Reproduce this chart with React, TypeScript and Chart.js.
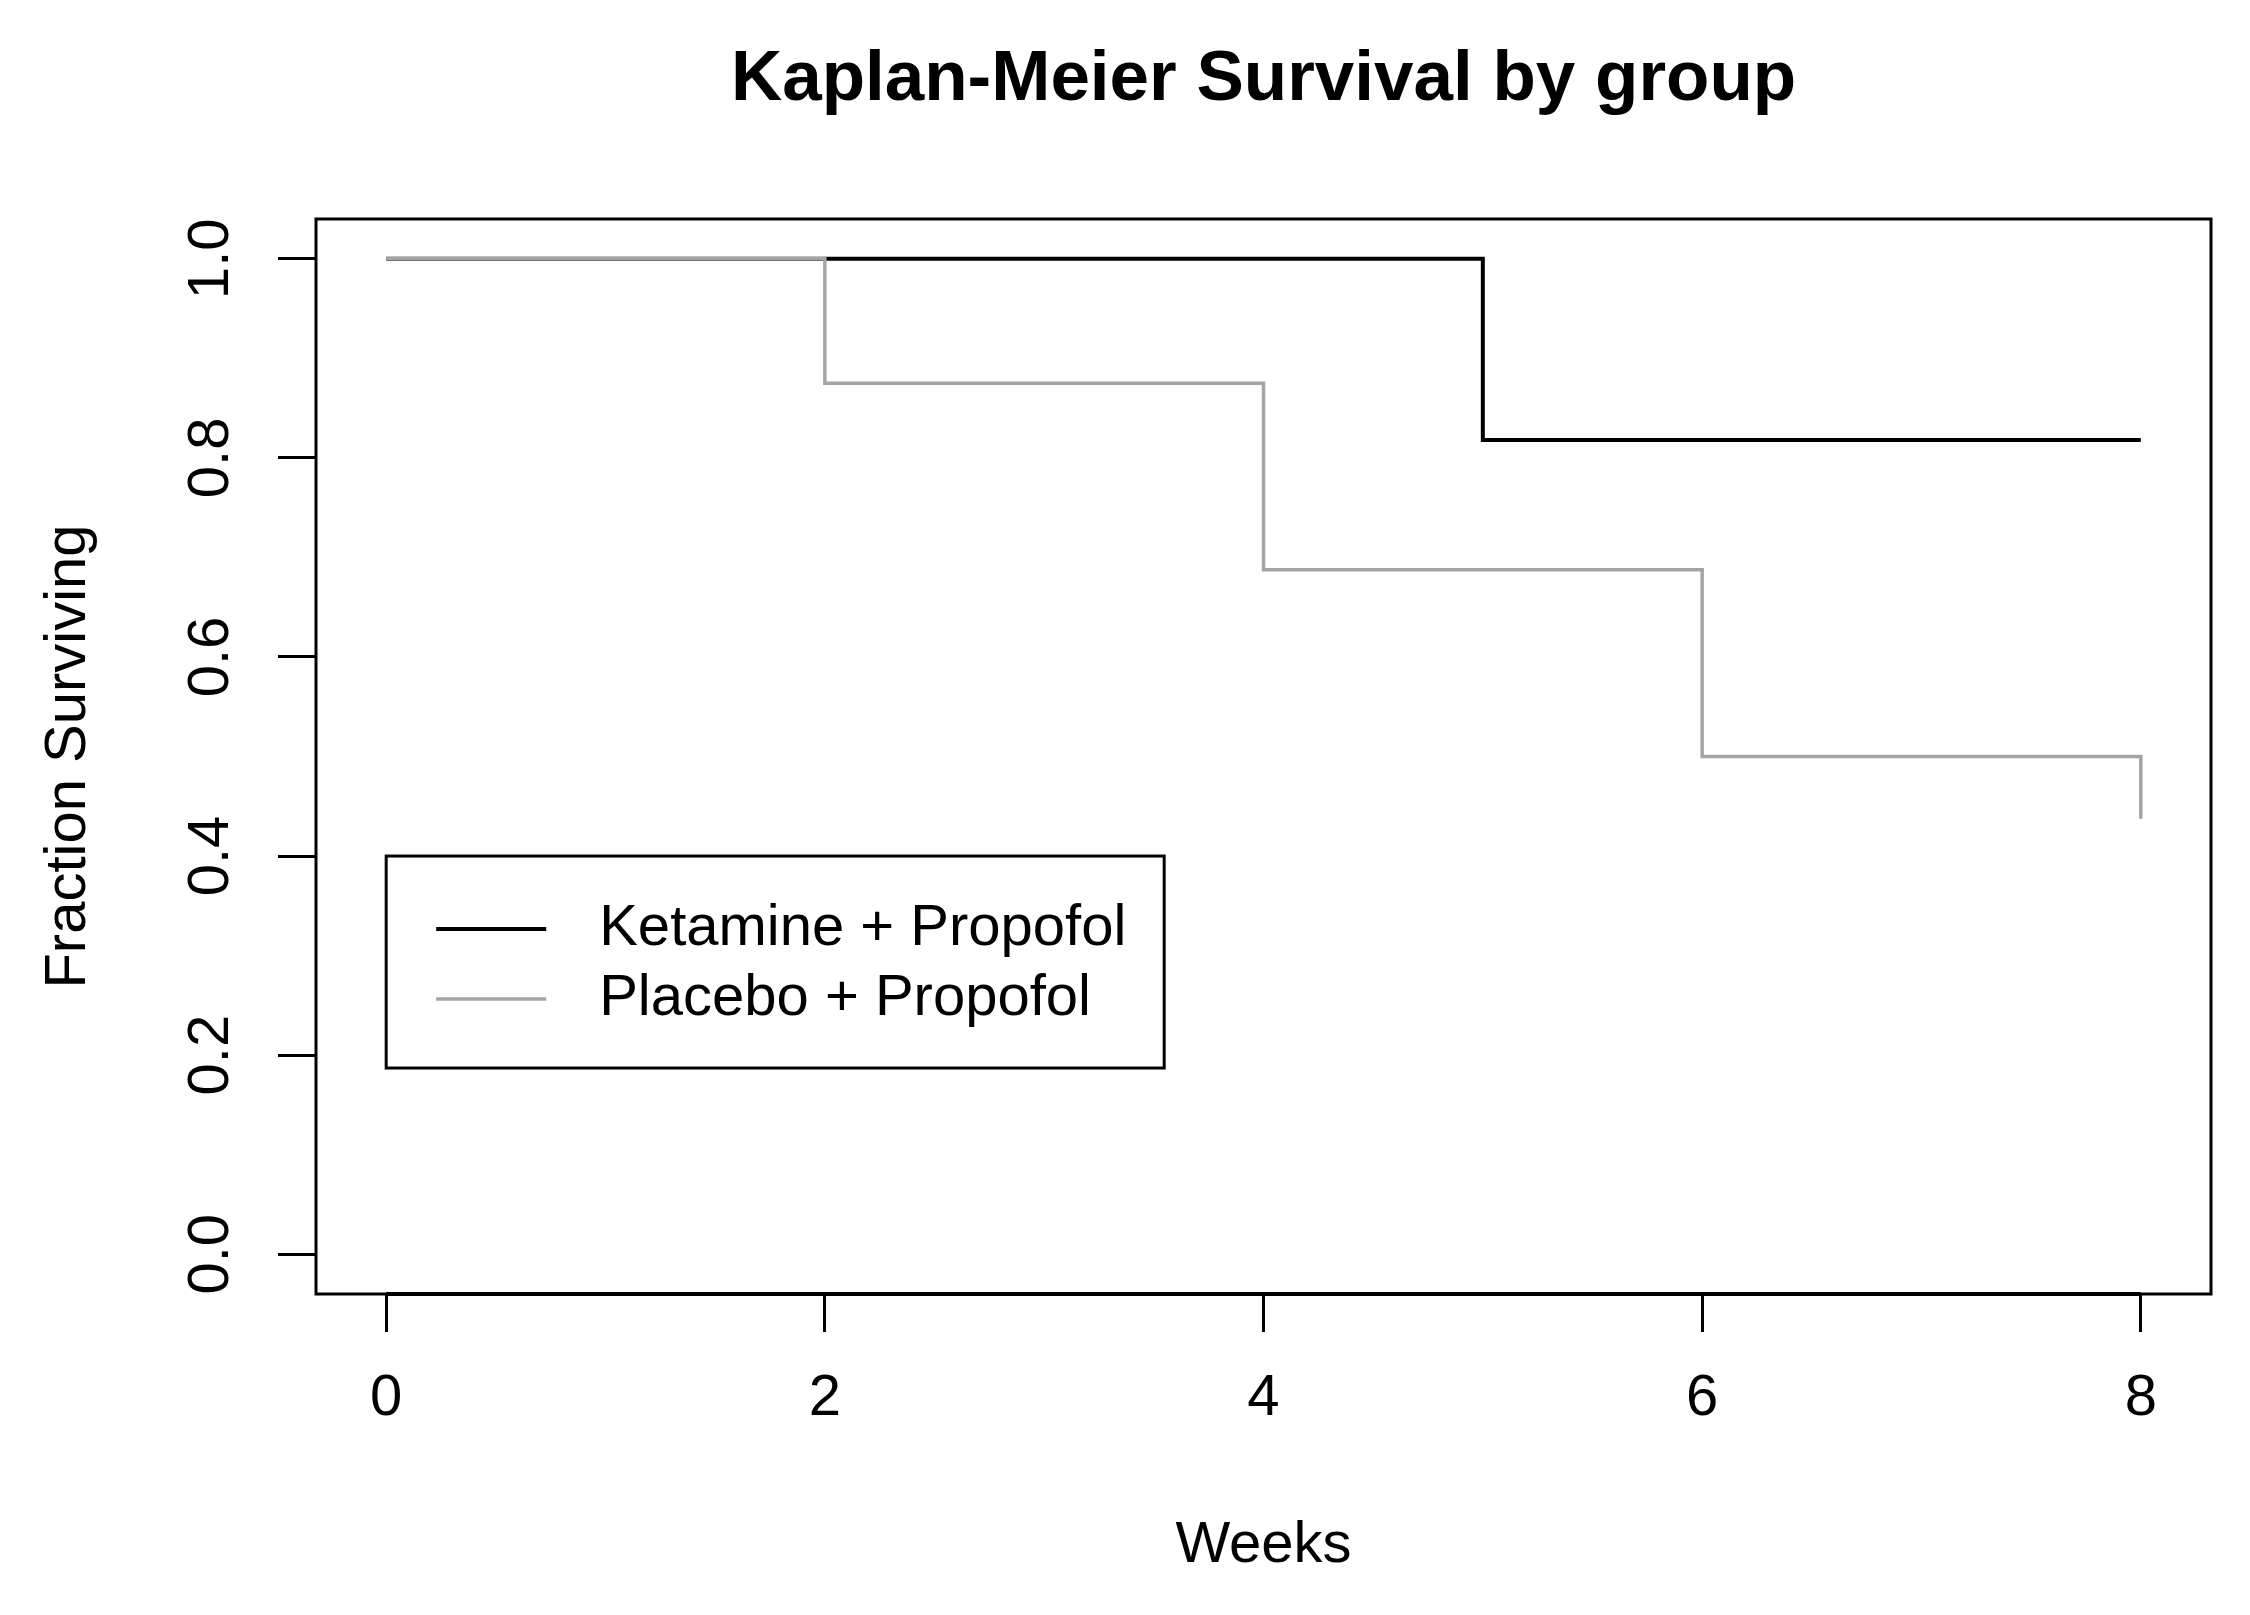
import { useEffect, useRef } from "react";
import { Chart, registerables, type Plugin } from "chart.js";

Chart.register(...registerables);

const FONT = "'Liberation Sans', Arial, Helvetica, sans-serif";

const chartTitle = "Kaplan-Meier Survival by group";
const xAxisTitle = "Weeks";
const yAxisTitle = "Fraction Surviving";

const seriesNames = ["Ketamine + Propofol", "Placebo + Propofol"];
const seriesColors = ["#000000", "#a4a4a4"];

// step points (week, fraction surviving)
const ketamineWeeks = [0, 5, 8];
const ketamineSurvival = [1.0, 0.818, 0.818];
const placeboWeeks = [0, 2, 4, 6, 8];
const placeboSurvival = [1.0, 0.875, 0.6875, 0.5, 0.4375];

const xTicks = [0, 2, 4, 6, 8];
const xTickLabels = ["0", "2", "4", "6", "8"];
const yTicks = [0, 0.2, 0.4, 0.6, 0.8, 1.0];
const yTickLabels = ["0.0", "0.2", "0.4", "0.6", "0.8", "1.0"];

// legend top-left corner, in data units
const legendAt = { x: 0, y: 0.4 };

// R-style frame, title and legend box
const frame: Plugin<"line"> = {
  id: "rFrame",
  afterDraw(chart) {
    const { ctx, chartArea } = chart;
    const { left, top, right, bottom } = chartArea;
    const xs = chart.scales.x;
    const ys = chart.scales.y;
    ctx.save();

    ctx.fillStyle = "#000";
    ctx.font = `bold 71px ${FONT}`;
    ctx.textAlign = "center";
    ctx.textBaseline = "middle";
    ctx.fillText(chartTitle, (left + right) / 2, 80);

    ctx.strokeStyle = "#000";
    ctx.lineWidth = 3;
    ctx.strokeRect(left, top, right - left, bottom - top);
    ctx.lineWidth = 4;
    ctx.beginPath();
    ctx.moveTo(xs.getPixelForValue(xTicks[0]), bottom);
    ctx.lineTo(xs.getPixelForValue(xTicks[xTicks.length - 1]), bottom);
    ctx.stroke();

    // legend
    const bx = xs.getPixelForValue(legendAt.x);
    const by = ys.getPixelForValue(legendAt.y);
    ctx.fillStyle = "#fff";
    ctx.fillRect(bx, by, 778, 212);
    ctx.lineWidth = 3;
    ctx.strokeRect(bx, by, 778, 212);
    ctx.font = `58px ${FONT}`;
    ctx.textAlign = "left";
    chart.data.datasets.forEach((ds, i) => {
      const ry = by + 73 + i * 70;
      ctx.strokeStyle = ds.borderColor as string;
      ctx.lineWidth = ds.borderWidth as number;
      ctx.beginPath();
      ctx.moveTo(bx + 50, ry);
      ctx.lineTo(bx + 160, ry);
      ctx.stroke();
      ctx.fillStyle = "#000";
      ctx.fillText(ds.label ?? "", bx + 213, ry);
    });

    ctx.restore();
  },
};

export default function App() {
  const canvasRef = useRef<HTMLCanvasElement>(null);

  useEffect(() => {
    if (!canvasRef.current) return;
    const chart = new Chart(canvasRef.current, {
      type: "line",
      data: {
        datasets: [
          {
            label: seriesNames[0],
            data: ketamineWeeks.map((w, i) => ({ x: w, y: ketamineSurvival[i] })),
            borderColor: seriesColors[0],
            borderWidth: 4,
            pointRadius: 0,
            stepped: true,
            fill: false,
            order: 1,
          },
          {
            label: seriesNames[1],
            data: placeboWeeks.map((w, i) => ({ x: w, y: placeboSurvival[i] })),
            borderColor: seriesColors[1],
            borderWidth: 3.5,
            pointRadius: 0,
            stepped: true,
            fill: false,
            order: 0,
          },
        ],
      },
      options: {
        animation: false,
        responsive: false,
        devicePixelRatio: 1,
        layout: { padding: { top: 219, right: 39, bottom: 0, left: 0 } },
        plugins: {
          legend: { display: false },
          tooltip: { enabled: false },
          title: { display: false },
        },
        scales: {
          x: {
            type: "linear",
            min: -0.32,
            max: 8.32,
            afterBuildTicks: (s) => {
              s.ticks = xTicks.map((v) => ({ value: v }));
            },
            afterFit: (s) => {
              s.height = 321;
            },
            border: { display: false },
            grid: {
              display: true,
              drawOnChartArea: false,
              drawTicks: true,
              tickLength: 38,
              tickWidth: 3,
              tickColor: "#000",
            },
            ticks: {
              color: "#000",
              padding: 32,
              font: { family: FONT, size: 58 },
              maxRotation: 0,
              autoSkip: false,
              callback: (_v, i) => xTickLabels[i],
            },
            title: {
              display: true,
              text: xAxisTitle,
              color: "#000",
              font: { family: FONT, size: 58 },
              padding: { top: 0, bottom: 34 },
            },
          },
          y: {
            type: "linear",
            min: -0.04,
            max: 1.04,
            afterBuildTicks: (s) => {
              s.ticks = yTicks.map((v) => ({ value: v }));
            },
            afterFit: (s) => {
              s.width = 316;
            },
            border: { display: false },
            grid: {
              display: true,
              drawOnChartArea: false,
              drawTicks: true,
              tickLength: 38,
              tickWidth: 3,
              tickColor: "#000",
            },
            ticks: {
              color: "#000",
              padding: 26,
              crossAlign: "center",
              minRotation: 90,
              maxRotation: 90,
              autoSkip: false,
              font: { family: FONT, size: 58 },
              callback: (_v, i) => yTickLabels[i],
            },
            title: {
              display: true,
              text: yAxisTitle,
              color: "#000",
              font: { family: FONT, size: 58 },
              padding: { top: 34, bottom: 0 },
            },
          },
        },
      },
      plugins: [frame],
    });
    return () => chart.destroy();
  }, []);

  return (
    <div style={{ position: "absolute", left: 0, top: 0, width: 2250, height: 1615, background: "#fff" }}>
      <canvas ref={canvasRef} width={2250} height={1615} style={{ width: 2250, height: 1615 }} />
    </div>
  );
}
